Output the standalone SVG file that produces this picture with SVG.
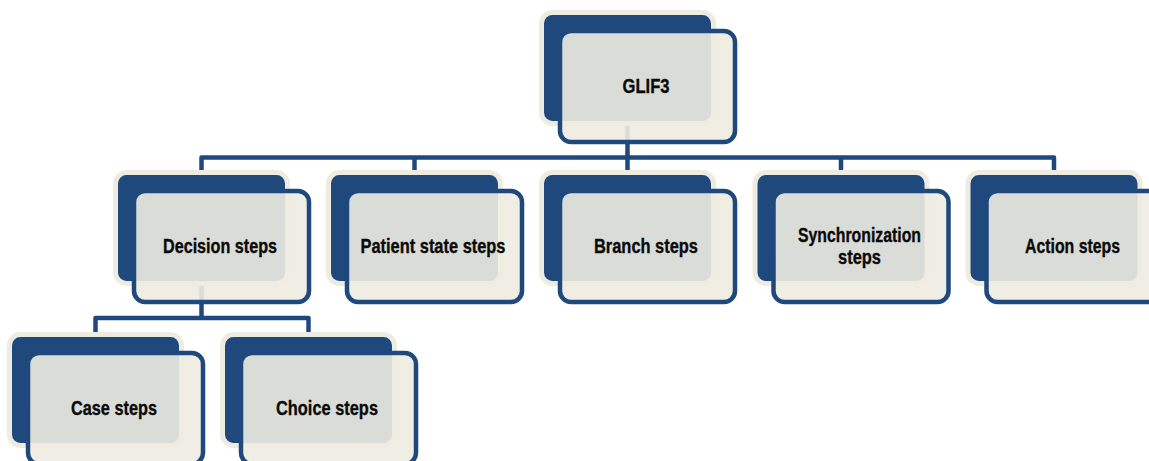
<svg xmlns="http://www.w3.org/2000/svg" width="1149" height="461" viewBox="0 0 1149 461">
  <style>
    .back { fill: #1F497D; stroke: #EEECE1; stroke-width: 5; }
    .front { fill: #EEECE1; fill-opacity: 0.9; stroke: #1F497D; stroke-width: 4.5; }
    .link { fill: none; stroke: #1F497D; stroke-width: 4.5; stroke-linejoin: round; }
    .label { font-family: "Liberation Sans Narrow", "Liberation Sans", Arial, sans-serif; font-stretch: condensed; font-weight: bold; font-size: 20.5px; fill: #0A0A0A; stroke: #0A0A0A; stroke-width: 0.35; text-anchor: middle; }
  </style>
  <defs>
    <g id="card">
      <rect class="back" x="0" y="0" width="172" height="111" rx="11"/>
      <rect class="front" x="18.5" y="18.5" width="175" height="111" rx="11"/>
    </g>
  </defs>
  <rect width="1149" height="461" fill="#FFFFFF"/>

  <!-- connectors, drawn beneath the cards -->
  <g id="connectors">
    <path class="link" d="M627.5,100 V157.5"/>
    <path class="link" d="M201.5,180 V157.5 H1054 V180"/>
    <path class="link" d="M414.5,157.5 V180"/>
    <path class="link" d="M627.5,157.5 V180"/>
    <path class="link" d="M841,157.5 V180"/>
    <path class="link" d="M201.5,260 V318"/>
    <path class="link" d="M95.5,342 V318 H308.5 V342"/>
  </g>

  <g id="glif3" transform="translate(541.5,12.5)">
    <use href="#card"/>
    <text class="label" x="104.5" y="80.5" textLength="47" lengthAdjust="spacingAndGlyphs">GLIF3</text>
  </g>
  <g id="decision" transform="translate(115.5,172.5)">
    <use href="#card"/>
    <text class="label" x="104.5" y="80.5" textLength="114" lengthAdjust="spacingAndGlyphs">Decision steps</text>
  </g>
  <g id="patient-state" transform="translate(328.5,172.5)">
    <use href="#card"/>
    <text class="label" x="104.5" y="80.5" textLength="145" lengthAdjust="spacingAndGlyphs">Patient state steps</text>
  </g>
  <g id="branch" transform="translate(541.5,172.5)">
    <use href="#card"/>
    <text class="label" x="104.5" y="80.5" textLength="104" lengthAdjust="spacingAndGlyphs">Branch steps</text>
  </g>
  <g id="synchronization" transform="translate(755,172.5)">
    <use href="#card"/>
    <text class="label" x="104.5" y="69.5" textLength="123" lengthAdjust="spacingAndGlyphs">Synchronization</text>
    <text class="label" x="104.5" y="91.5" textLength="43" lengthAdjust="spacingAndGlyphs">steps</text>
  </g>
  <g id="action" transform="translate(968,172.5)">
    <use href="#card"/>
    <text class="label" x="104.5" y="80.5" textLength="95" lengthAdjust="spacingAndGlyphs">Action steps</text>
  </g>
  <g id="case" transform="translate(9.5,334.5)">
    <use href="#card"/>
    <text class="label" x="104.5" y="80.5" textLength="86" lengthAdjust="spacingAndGlyphs">Case steps</text>
  </g>
  <g id="choice" transform="translate(222.5,334.5)">
    <use href="#card"/>
    <text class="label" x="104.5" y="80.5" textLength="102" lengthAdjust="spacingAndGlyphs">Choice steps</text>
  </g>
</svg>
